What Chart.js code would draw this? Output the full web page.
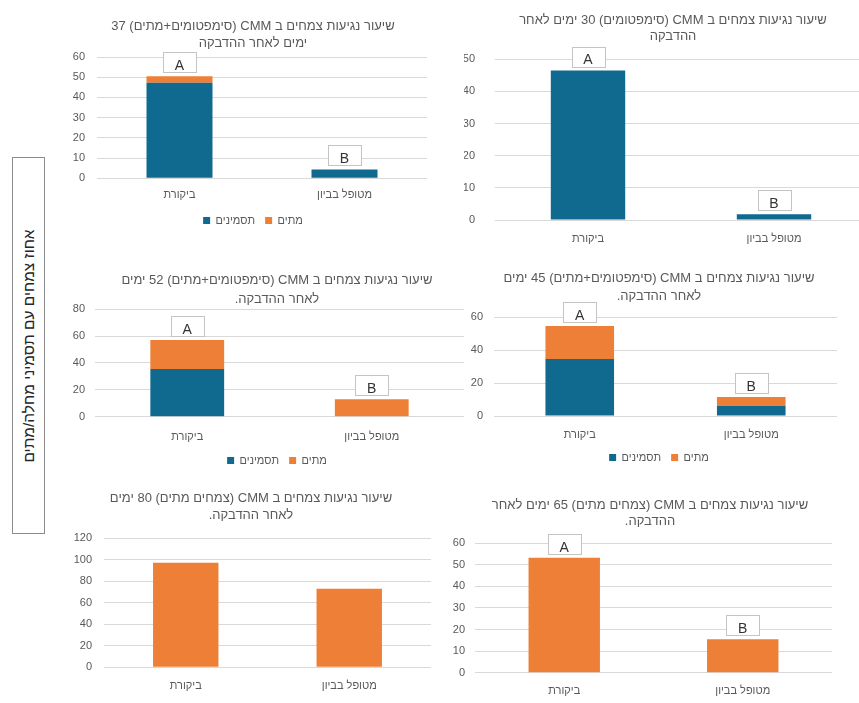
<!DOCTYPE html>
<html lang="he">
<head>
<meta charset="utf-8">
<script src="https://cdn.jsdelivr.net/npm/chart.js@4"></script>
<style>
    html, body { margin: 0; padding: 0; background: #fff; }
    body { width: 859px; height: 703px; overflow: hidden; position: relative; }
    canvas { position: absolute; }
    .side-box {
        position: absolute; left: 12px; top: 157px; width: 31px; height: 375px;
        border: 1px solid #8c8c8c; background: #fff;
    }
    .side-box span {
        position: absolute; left: 50%; top: 50%; white-space: nowrap; direction: rtl;
        transform: translate(-50%, -50%) rotate(-90deg);
        font: 15.5px 'Liberation Sans', 'DejaVu Sans', sans-serif; color: #262626;
    }
</style>
</head>
<body>
<div class="side-box"><span>אחוז צמחים עם תסמיני מחלה/מתים</span></div>
<canvas id="c30" dir="rtl" width="418" height="250" style="left:464px;top:0px"></canvas>
<canvas id="c37" dir="rtl" width="368" height="231" style="left:69px;top:5px"></canvas>
<canvas id="c45" dir="rtl" width="386" height="218" style="left:466px;top:255px"></canvas>
<canvas id="c52" dir="rtl" width="408" height="221" style="left:73px;top:255px"></canvas>
<canvas id="c65" dir="rtl" width="394" height="221" style="left:453px;top:480px"></canvas>
<canvas id="c80" dir="rtl" width="366" height="217" style="left:68px;top:480px"></canvas>
<script>
// categories and series
const categories = ['ביקורת', 'מטופל בביון'];
const symptomsLabel = 'תסמינים';
const deadLabel = 'מתים';
const groupLetters = ['A', 'B'];

// values (% plants)
const d30Symptoms = [46.5, 1.8];
const d37Symptoms = [47.3, 4.4];
const d37Dead = [3.2, 0];
const d45Symptoms = [34.7, 6.3];
const d45Dead = [20, 5.2];
const d52Symptoms = [35.5, 0];
const d52Dead = [21.6, 12.9];
const d65Dead = [53.3, 15.5];
const d80Dead = [97.3, 73.1];

// y tick labels of every panel
const ticks30 = [0, 10, 20, 30, 40, 50];
const ticks37 = [0, 10, 20, 30, 40, 50, 60];
const ticks45 = [0, 20, 40, 60];
const ticks52 = [0, 20, 40, 60, 80];
const ticks65 = [0, 10, 20, 30, 40, 50, 60];
const ticks80 = [0, 20, 40, 60, 80, 100, 120];

const title30 = ['שיעור נגיעות צמחים ב CMM (סימפטומים) 30 ימים לאחר', 'ההדבקה'];
const title37 = ['שיעור נגיעות צמחים ב CMM (סימפטומים+מתים) 37', 'ימים לאחר ההדבקה'];
const title45 = ['שיעור נגיעות צמחים ב CMM (סימפטומים+מתים) 45 ימים', 'לאחר ההדבקה.'];
const title52 = ['שיעור נגיעות צמחים ב CMM (סימפטומים+מתים) 52 ימים', 'לאחר ההדבקה.'];
const title65 = ['שיעור נגיעות צמחים ב CMM (צמחים מתים) 65 ימים לאחר', 'ההדבקה.'];
const title80 = ['שיעור נגיעות צמחים ב CMM (צמחים מתים) 80 ימים', 'לאחר ההדבקה.'];

const BLUE = '#106a90';
const ORANGE = '#ee7f36';
const TEXT = '#595959';

Chart.defaults.font.family = "'Liberation Sans', 'DejaVu Sans', sans-serif";
Chart.defaults.color = TEXT;

// white boxes with the significance letters above each stack
const letterBoxes = {
    id: 'letterBoxes',
    afterDatasetsDraw(chart, args, opts) {
        if (!opts.letters) return;
        const ctx = chart.ctx;
        opts.letters.forEach((letter, i) => {
            let top = Infinity, x = 0;
            chart.data.datasets.forEach((ds, di) => {
                const bar = chart.getDatasetMeta(di).data[i];
                if (bar.y < top) { top = bar.y; x = bar.x; }
            });
            const w = 33, h = 20, bottom = top - 4;
            ctx.save();
            ctx.fillStyle = '#fff';
            ctx.strokeStyle = '#c4c4c4';
            ctx.lineWidth = 1;
            ctx.fillRect(Math.round(x - w / 2) + 0.5, Math.round(bottom - h) + 0.5, w, h);
            ctx.strokeRect(Math.round(x - w / 2) + 0.5, Math.round(bottom - h) + 0.5, w, h);
            ctx.fillStyle = '#333';
            ctx.font = "14px 'Liberation Sans', 'DejaVu Sans', sans-serif";
            ctx.textAlign = 'center';
            ctx.textBaseline = 'middle';
            ctx.fillText(letter, x, bottom - 6);
            ctx.restore();
        });
    }
};

function makeChart(id, title, datasets, ticks, letters, p) {
    const step = ticks[1] - ticks[0];
    new Chart(document.getElementById(id), {
        type: 'bar',
        data: { labels: categories, datasets },
        options: {
            responsive: false,
            animation: false,
            layout: { padding: 0 },
            datasets: { bar: { categoryPercentage: 1, barPercentage: 0.4 } },
            plugins: {
                title: {
                    display: true, text: title, color: TEXT,
                    font: { size: 13, weight: 'normal', lineHeight: p.lh + 'px' },
                    padding: { top: p.pt, bottom: p.pb }
                },
                legend: {
                    display: datasets.length > 1, position: 'bottom',
                    labels: { boxWidth: 7, boxHeight: 7, padding: 10, color: TEXT, font: { size: 11 } }
                },
                tooltip: { enabled: false },
                letterBoxes: { letters }
            },
            scales: {
                x: {
                    stacked: true,
                    grid: { display: false },
                    border: { display: false },
                    ticks: { color: TEXT, font: { size: 11 }, padding: p.xpad },
                    afterFit: s => { s.height = p.hx; }
                },
                y: {
                    stacked: true, min: ticks[0], max: ticks[ticks.length - 1],
                    grid: { color: '#d9d9d9', drawTicks: false },
                    border: { display: false },
                    ticks: { stepSize: step, color: TEXT, font: { size: 11 }, padding: p.ypad },
                    afterFit: s => { s.width = p.wy; }
                },
                // empty right-hand gutter, so the title sits where Excel put it
                gutter: {
                    position: 'right', axis: 'y',
                    grid: { display: false }, border: { display: false }, ticks: { display: false },
                    afterFit: s => { s.width = p.wr; }
                }
            }
        },
        plugins: [letterBoxes]
    });
}

const blue = (data) => ({ label: symptomsLabel, data, backgroundColor: BLUE });
const orange = (data) => ({ label: deadLabel, data, backgroundColor: ORANGE });

makeChart('c37', title37, [blue(d37Symptoms), orange(d37Dead)], ticks37, groupLetters,
    { wy: 28, wr: 10, lh: 16.7, pt: 13.35, pb: 5.25, hx: 26.7, xpad: 2.5, ypad: 12 });
makeChart('c30', title30, [blue(d30Symptoms)], ticks30, groupLetters,
    { wy: 31, wr: 15, lh: 16, pt: 12, pb: 15.3, hx: 30, xpad: 4.7, ypad: 20 });
makeChart('c52', title52, [blue(d52Symptoms), orange(d52Dead)], ticks52, groupLetters,
    { wy: 22, wr: 17, lh: 19.5, pt: 15.25, pb: 0, hx: 28.3, xpad: 5.7, ypad: 10 });
makeChart('c45', title45, [blue(d45Symptoms), orange(d45Dead)], ticks45, groupLetters,
    { wy: 28, wr: 15, lh: 18.3, pt: 14.15, pb: 11.55, hx: 26, xpad: 4.5, ypad: 11 });
makeChart('c80', title80, [orange(d80Dead)], ticks80, null,
    { wy: 36, wr: 3, lh: 16.7, pt: 9.95, pb: 14.95, hx: 29.7, xpad: 4, ypad: 12 });
makeChart('c65', title65, [orange(d65Dead)], ticks65, groupLetters,
    { wy: 22, wr: 15, lh: 16.7, pt: 16.65, pb: 13.25, hx: 28.3, xpad: 3.7, ypad: 10 });
</script>
</body>
</html>
